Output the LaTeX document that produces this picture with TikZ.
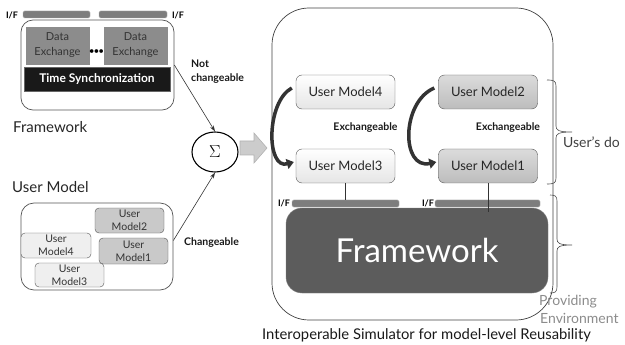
\documentclass[tikz,border=0pt]{standalone}
\usepackage{fontspec}
\setmainfont{Lato}
\usetikzlibrary{shapes.geometric,arrows.meta}
\newcommand{\fsz}[2]{\fontsize{#1}{#2}\selectfont}
\definecolor{ifgray}{HTML}{7D7D7D}
\definecolor{degray}{HTML}{8C8C8C}
\definecolor{darkfw}{HTML}{5C5C5C}
\definecolor{lightum}{HTML}{EFEFEF}
\definecolor{darkum}{HTML}{C9C9C9}
\definecolor{edge}{HTML}{555555}
\begin{document}
\begin{tikzpicture}[x=1pt,y=-1pt,
  ifbar/.style={draw=black!35, fill=ifgray, inner sep=0pt, minimum height=7pt, rounded corners=1.5pt},
  iflab/.style={font=\bfseries\fsz{9}{10}, inner sep=0pt},
  dex/.style={fill=degray, draw=black!45, minimum width=63pt, minimum height=37pt, inner sep=0pt, align=center, text=black!80, font=\fsz{11}{15}},
  smallum/.style={draw=edge, rounded corners=4pt, inner sep=0pt, align=center, font=\fsz{10.5}{13}, text=black!80},
  bigum/.style={draw=edge, rounded corners=6pt, minimum width=99pt, minimum height=34pt, inner sep=0pt, font=\fsz{13}{15}, text=black!85},
  boldlab/.style={font=\bfseries\fsz{10.5}{14}, inner sep=0pt, text=black!90},
  thinarrow/.style={draw=black!80, line width=0.6pt, -{Stealth[length=6pt,width=4pt]}},
  curvearrow/.style={draw=black!80, line width=3.5pt, -{Triangle[length=7pt,width=10pt]}},
  brace/.style={draw=black!70, line width=0.6pt}
]
\useasboundingbox (0,0) rectangle (625,345);

% ---- top-left framework ----
\node[ifbar, minimum width=67pt] (ifa) at (56.5,14.5) {};
\node[ifbar, minimum width=68pt] (ifb) at (133,14.5) {};
\node[iflab] (ifla) at (12,15) {I/F};
\node[iflab] (iflb) at (178,15) {I/F};
\node[draw=edge, fill=white, rounded corners=12pt, minimum width=153pt, minimum height=90pt, line width=0.7pt] (fwbox) at (97.5,65) {};
\node[dex] (de1) at (57.5,45.5) {Data\\Exchange};
\node[dex] (de2) at (135.5,45.5) {Data\\Exchange};
\node[inner sep=0pt, font=\fsz{10}{12}, text=black] (dots) at (96.5,52) {\textbullet\kern-1pt\textbullet\kern-1pt\textbullet};
\node[fill=black!90, draw=black!60, minimum width=146pt, minimum height=24pt, inner sep=0pt, text=white, font=\bfseries\fsz{12}{14}] (ts) at (97,79) {Time Synchronization};
\node[anchor=base west, inner sep=0pt, font=\fsz{15}{18}, text=black!85] (fwlab) at (13,132) {Framework};

% ---- user model group ----
\node[anchor=base west, inner sep=0pt, font=\fsz{15}{18}, text=black!85] (umlab) at (12,193) {User Model};
\node[draw=edge, fill=white, rounded corners=13pt, minimum width=152pt, minimum height=87pt, line width=0.7pt] (umbox) at (97,246.5) {};
\node[smallum, fill=darkum, minimum width=69pt, minimum height=25pt] (lum2) at (129.5,220.5) {User\\Model2};
\node[smallum, fill=lightum, minimum width=70pt, minimum height=25pt] (lum4) at (56,245.5) {User\\Model4};
\node[smallum, fill=darkum, minimum width=69pt, minimum height=26pt] (lum1) at (133.5,251) {User\\Model1};
\node[smallum, fill=lightum, minimum width=69pt, minimum height=24pt] (lum3) at (69.5,275) {User\\Model3};

% ---- sigma and labels ----
\node[ellipse, draw=black, line width=1.1pt, minimum width=46pt, minimum height=40pt, inner sep=0pt, fill=white] (sig) at (215,152) {\fsz{16}{18}$\Sigma$};
\node[boldlab, anchor=north west, align=left] (notch) at (191,60) {Not\\changeable};
\node[boldlab, anchor=west] (chg) at (184,243) {Changeable};
\draw[thinarrow] (fwbox.east) -- (sig.north);
\draw[thinarrow] ([yshift=6pt]umbox.east) -- (sig.south);

% ---- big gray arrow ----
\draw[fill=black!20, draw=black!30, line width=0.6pt] (240,141) -- (254,141) -- (254,133) -- (267,148) -- (254,163) -- (254,155) -- (240,155) -- cycle;

% ---- simulator ----
\node[draw=black!75, rounded corners=37pt, minimum width=281pt, minimum height=312pt, line width=0.7pt] (simbox) at (412.5,164) {};
\node[bigum, top color=white, bottom color=black!10] (rum4) at (345.5,92) {User Model4};
\node[bigum, top color=black!14, bottom color=black!26] (rum2) at (488,92) {User Model2};
\node[bigum, top color=white, bottom color=black!10] (rum3) at (345.5,166) {User Model3};
\node[bigum, top color=black!14, bottom color=black!26] (rum1) at (488,166) {User Model1};
\node[boldlab, font=\bfseries\fsz{10.5}{12}] (ex1) at (365.5,128) {Exchangeable};
\node[boldlab, font=\bfseries\fsz{10.5}{12}] (ex2) at (508,128) {Exchangeable};
\draw[curvearrow] ([xshift=-4pt,yshift=4pt]rum4.west) .. controls (266,102) and (266,170) .. ([xshift=-2pt,yshift=4pt]rum3.west);
\draw[curvearrow] ([xshift=-4pt,yshift=4pt]rum2.west) .. controls (401,102) and (401,170) .. ([xshift=-2pt,yshift=4pt]rum1.west);

\node[ifbar, minimum width=107pt] (rifa) at (345.5,203.5) {};
\node[ifbar, minimum width=105pt] (rifb) at (487.5,203.5) {};
\node[iflab] (rifla) at (284,203.5) {I/F};
\node[iflab] (riflb) at (428,203.5) {I/F};
\node[fill=darkfw, draw=black!50, rounded corners=16pt, minimum width=262pt, minimum height=85pt, inner sep=0pt, text=white, font=\fsz{33}{36}] (bigfw) at (417,250.5) {Framework};
\coordinate (rend) at (488,212);
\draw[black!80, line width=0.6pt] (rum3.south) -- (rifa.north);
\draw[black!80, line width=0.6pt] (rum1.south) -- (rend);

% ---- braces ----
\draw[brace] (547,80) .. controls (554,80) and (556,81) .. (556,86) -- (556,126) .. controls (556,130) and (558,132) .. (572,132)
  .. controls (558,132) and (556,134) .. (556,138) -- (556,178) .. controls (556,183) and (554,184) .. (547,184);
\draw[brace] (550,195) .. controls (555,195) and (557,196) .. (557,201) -- (557,239) .. controls (557,243) and (559,245) .. (572,245)
  .. controls (559,245) and (557,247) .. (557,251) -- (557,287) .. controls (557,292) and (555,293) .. (550,293);
\node[anchor=base west, inner sep=0pt, font=\fsz{14}{16}, text=black!75] (udo) at (563,148) {User's do};
\node[anchor=base west, inner sep=0pt, font=\fsz{14}{18}, text=black!45] (prov1) at (539,305) {Providing};
\node[anchor=base west, inner sep=0pt, font=\fsz{14}{18}, text=black!45] (prov2) at (540,323) {Environment};
\node[anchor=base west, inner sep=0pt, font=\fsz{14.8}{16}, text=black!90] (cap) at (262,339) {Interoperable Simulator for model-level Reusability};
\end{tikzpicture}
\end{document}
